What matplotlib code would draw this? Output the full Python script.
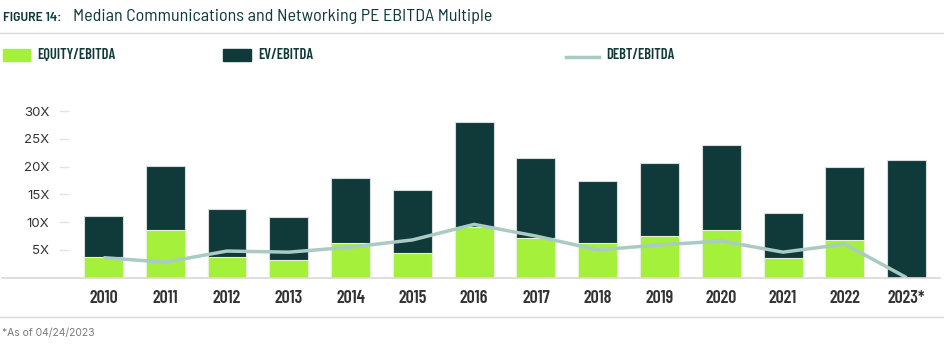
import numpy as np
import matplotlib.pyplot as plt
from matplotlib.patches import Rectangle
from matplotlib.lines import Line2D

years = ["2010", "2011", "2012", "2013", "2014", "2015", "2016",
         "2017", "2018", "2019", "2020", "2021", "2022", "2023*"]
ev_ebitda = [11.2, 20.1, 12.4, 11.0, 17.9, 15.8, 28.0,
             21.6, 17.5, 20.6, 23.9, 11.7, 19.85, 21.2]
equity_ebitda = [3.7, 8.6, 3.7, 3.1, 6.2, 4.4, 9.2,
                 7.1, 6.2, 7.45, 8.6, 3.5, 6.7, 0.0]
debt_ebitda = [3.6, 2.8, 4.8, 4.6, 5.5, 6.8, 9.6,
               7.5, 5.0, 5.9, 6.6, 4.6, 6.05, 0.0]
yticks = [5, 10, 15, 20, 25, 30]

GREEN = "#a4f03a"
DARK = "#10393a"
DEBT = "#a9cbc4"
TXT = "#333333"
RULE = "#dcd8d2"

narrow = ["Barlow Condensed", "DejaVu Sans"]
semi = ["Barlow Semi Condensed", "DejaVu Sans"]
plain = ["Inter", "DejaVu Sans"]

fig = plt.figure(figsize=(9.45, 3.5), dpi=100)
W, H = 945, 350
ax = fig.add_axes([69 / W, 1 - 277.7 / H, (940 - 69) / W, (277.7 - 100) / H])

x = np.arange(len(years))
ax.bar(x, ev_ebitda, width=0.63, color=DARK, edgecolor="#d8dcd8", linewidth=0.8, zorder=2)
ax.bar(x, equity_ebitda, width=0.63, color=GREEN, edgecolor="#e8f0d8", linewidth=0.8, zorder=3)
ax.plot(x, debt_ebitda, color=DEBT, linewidth=2.5, zorder=4, solid_capstyle="butt")

ax.set_xlim(-0.558, 13.54)
ax.set_ylim(0, 32)
ax.set_yticks(yticks)
ax.set_yticklabels([f"{v}X" for v in yticks], family=plain, fontsize=9.5, color=TXT)
ax.tick_params(axis="y", length=7.2, width=1, color="#e6e4de", pad=7)
ax.set_xticks(x)
ax.set_xticklabels(years, family=narrow, fontsize=13, fontweight="semibold", color=TXT)
ax.tick_params(axis="x", length=0, pad=9)
for s in ["top", "right", "left", "bottom"]:
    ax.spines[s].set_visible(False)
ax.axhline(0, xmin=-67 / 871, xmax=1.0, color=RULE, linewidth=1.2, clip_on=False, zorder=5)

# title
fig.text(3 / W, 1 - 18 / H, "FIGURE 14:", family=semi, fontsize=10, fontweight="semibold",
         color=DARK, va="center")
fig.text(73 / W, 1 - 17 / H, "Median Communications and Networking PE EBITDA Multiple",
         family=semi, fontsize=13, color=DARK, va="center")
fig.add_artist(Line2D([0, 1], [1 - 33 / H, 1 - 33 / H], color=RULE, linewidth=1))

# legend
ly = 1 - 55 / H
fig.add_artist(Rectangle((3 / W, ly - 5.5 / H), 27 / W, 11 / H, color=GREEN, transform=fig.transFigure))
fig.text(37 / W, ly, "EQUITY/EBITDA", family=narrow, fontsize=10.5, fontweight="semibold", color=DARK, va="center")
fig.add_artist(Rectangle((223 / W, ly - 5.5 / H), 28 / W, 11 / H, color=DARK, transform=fig.transFigure))
fig.text(258 / W, ly, "EV/EBITDA", family=narrow, fontsize=10.5, fontweight="semibold", color=DARK, va="center")
fig.add_artist(Line2D([566 / W, 599 / W], [1 - 57 / H, 1 - 57 / H], color=DEBT, linewidth=2.5))
fig.text(606 / W, ly, "DEBT/EBITDA", family=narrow, fontsize=10.5, fontweight="semibold", color=DARK, va="center")

# footnote
fig.add_artist(Line2D([0, 1], [1 - 317 / H, 1 - 317 / H], color=RULE, linewidth=1))
fig.text(2 / W, 1 - 333 / H, "*As of 04/24/2023", family=plain, fontsize=7.5, color="#7a7a7a", va="center")

fig.savefig("out.png", dpi=100)
